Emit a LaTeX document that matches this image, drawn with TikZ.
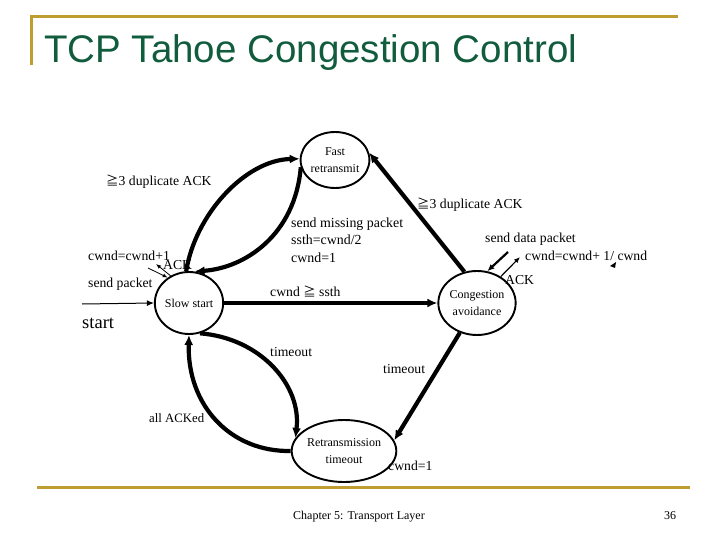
\documentclass[tikz,border=0pt]{standalone}
\usepackage{fontspec}
\setmainfont{Liberation Serif}
\newfontfamily\titlefont{Liberation Sans}
\newfontfamily\cjk{Noto Sans CJK JP}
\usetikzlibrary{arrows.meta,shapes.geometric}
\definecolor{gold}{RGB}{190,158,50}
\definecolor{titlegreen}{RGB}{18,92,62}
\newcommand{\gequiv}{{\cjk\fontsize{12.5}{14}\selectfont ≧}}
\begin{document}
\begin{tikzpicture}[x=1pt,y=-1pt,
  lbl/.style={font=\fontsize{13.7}{15}\selectfont, inner sep=0pt, anchor=west},
  state/.style={draw, line width=1.9pt, ellipse, inner sep=0pt, align=center,
     font=\fontsize{12}{17}\selectfont},
  thick edge/.style={line width=4.2pt, -{Latex[length=10pt,width=9pt]}},
  thin arrow/.style={line width=0.8pt, -{Latex[length=5pt,width=4pt]}},
  gold line/.style={gold, line width=3pt}]
\useasboundingbox (0,0) rectangle (720,540);
% frame lines
\draw[gold line] (30,17) -- (678,17);
\draw[gold line] (31,16) -- (31,65);
\draw[gold line] (37,487) -- (690,487);
\node[text=titlegreen, font=\titlefont\fontsize{38.5}{40}\selectfont, anchor=base west, inner sep=0pt] (title) at (44,63) {TCP Tahoe Congestion Control};
% states
\node[state, minimum width=62pt, minimum height=62pt] (ss) at (189,303) {Slow start};
\node[state, minimum width=64pt, minimum height=56pt] (fr) at (335,160) {Fast\\retransmit};
\node[state, minimum width=64pt, minimum height=64pt] (ca) at (477,303) {Congestion\\avoidance};
\node[state, minimum width=82pt, minimum height=62pt] (rt) at (344,451) {Retransmission\\timeout};
% start arrow
\coordinate (st) at (82,304);
\draw[line width=1pt, -{Latex[length=7pt,width=6pt]}] (st) -- (ss.west);
\node[font=\fontsize{18.5}{20}\selectfont, inner sep=0pt, anchor=west] (startlbl) at (82,323) {start};
% main transitions
\draw[thick edge] (ss.95) .. controls (195,215) and (245,160) .. (fr.178);
\draw[thick edge] (fr.192) .. controls (295,235) and (245,268) .. (ss.80);
\draw[thick edge] (ss.east) -- (ca.west);
\draw[thick edge] (ca.112) -- (fr.12);
\draw[thick edge] (ca.240) -- (rt.12);
\draw[thick edge] (ss.290) .. controls (260,338) and (302,385) .. (rt.165);
\draw[thick edge] (rt.180) .. controls (230,452) and (187,405) .. (ss.270);
% small arrows at slow start
\coordinate (a1) at (148,268);
\coordinate (a2) at (172,277);
\coordinate (a2e) at (156,264);
\draw[thin arrow] (a1) -- (ss.130);
\draw[thin arrow] (a2) -- (a2e);
% small arrows at congestion avoidance
\coordinate (b1) at (508,252);
\coordinate (b2) at (520,257);
\draw[line width=2.2pt, -{Latex[length=7pt,width=6pt]}] (b1) -- (ca.72);
\draw[line width=1.2pt, -{Latex[length=6pt,width=5pt]}] (ca.48) -- (b2);
\fill (610,266) -- (616,262) -- (615,268) -- cycle;
% labels
\node[lbl] (l1) at (106,182) {\gequiv3 duplicate ACK};
\node[lbl] (l2) at (417,205) {\gequiv3 duplicate ACK};
\node[lbl, align=left, font=\fontsize{13.9}{17.5}\selectfont] (l3) at (291,240) {send missing packet\\ssth=cwnd/2\\cwnd=1};
\node[lbl] (l4) at (88,256) {cwnd=cwnd+1};
\node[lbl] (l5) at (163,265) {ACK};
\node[lbl] (l6) at (88,284) {send packet};
\node[lbl] (l7) at (270,291) {cwnd \gequiv\ ssth};
\node[lbl] (l8) at (485,239) {send data packet};
\node[lbl] (l9) at (525,256) {cwnd=cwnd+ 1/ cwnd};
\node[lbl] (l10) at (505,280) {ACK};
\node[lbl] (l11) at (270,352) {timeout};
\node[lbl] (l12) at (383,369) {timeout};
\node[lbl, font=\fontsize{12.8}{15}\selectfont] (l13) at (149,418) {all ACKed};
\node[lbl] (l14) at (388,466) {cwnd=1};
% footer
\node[font=\fontsize{12}{14}\selectfont, inner sep=0pt] (foot) at (359,517) {Chapter 5: Transport Layer};
\node[font=\fontsize{12}{14}\selectfont, inner sep=0pt] (page) at (670,516) {36};
\end{tikzpicture}
\end{document}
